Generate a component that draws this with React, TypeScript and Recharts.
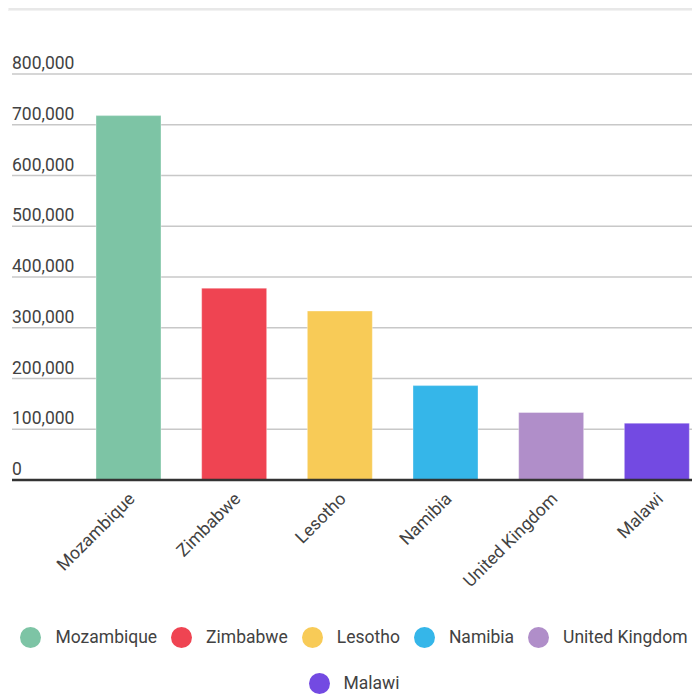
import React from 'react';
import { BarChart, Bar, XAxis, YAxis, CartesianGrid, Cell, Legend } from 'recharts';

const categories = ['Mozambique', 'Zimbabwe', 'Lesotho', 'Namibia', 'United Kingdom', 'Malawi'];
const values = [718000, 378000, 333000, 186000, 133000, 112000];
const colors = ['#7dc4a5', '#ef4452', '#f8cb57', '#35b6e9', '#b08ec9', '#734ae2'];
const yTicks = [0, 100000, 200000, 300000, 400000, 500000, 600000, 700000, 800000];

const data = categories.map((c, i) => ({ name: c, value: values[i], color: colors[i] }));

const fmt = (v: number) => v.toLocaleString('en-US');

const YTick = (props: any) => {
  const { y, payload } = props;
  return (
    <text x={4} y={y - 5} textAnchor="start" fontSize={17.5} fill="#424242" fontFamily="Roboto">
      {fmt(payload.value)}
    </text>
  );
};

const XTick = (props: any) => {
  const { x, y, payload } = props;
  const ax = x + 7;
  const ay = y + 12;
  return (
    <text
      x={ax}
      y={ay}
      textAnchor="end"
      transform={`rotate(-45, ${ax}, ${ay})`}
      fontSize={17.5}
      fill="#424242"
      fontFamily="Roboto"
    >
      {payload.value}
    </text>
  );
};

const LegendContent = () => (
  <div
    style={{
      width: 692,
      height: 84,
      display: 'flex',
      flexWrap: 'wrap',
      justifyContent: 'center',
      alignContent: 'flex-start',
      fontFamily: 'Roboto',
      fontSize: 17.5,
      color: '#424242',
    }}
  >
    {categories.map((c, i) => (
      <div key={c} style={{ display: 'flex', alignItems: 'center', height: 46, padding: '0 7px' }}>
        <span
          style={{
            display: 'inline-block',
            width: 21,
            height: 21,
            borderRadius: '50%',
            background: colors[i],
            marginRight: 14,
          }}
        />
        <span style={{ whiteSpace: 'nowrap' }}>{c}</span>
      </div>
    ))}
  </div>
);

export default function App() {
  return (
    <div style={{ marginTop: -4, width: 692, height: 694, overflow: 'hidden', position: 'relative', fontFamily: 'Roboto' }}>
      <div
        style={{
          position: 'absolute',
          top: 0,
          left: 0,
          width: 692,
          height: 7,
          background: '#e8e8e8',
          boxSizing: 'border-box',
          border: '1px solid #f2f2f2',
        }}
      />
      <BarChart width={702} height={694} data={data} margin={{ top: 70, right: 0, bottom: 0, left: 3 }}>
        <CartesianGrid vertical={false} stroke="#c8c8c8" strokeWidth={1.3} />
        <XAxis
          dataKey="name"
          padding={{ left: 64, right: 0 }}
          axisLine={{ stroke: '#333', strokeWidth: 2.5 }}
          tickLine={false}
          tick={<XTick />}
          interval={0}
          height={134}
        />
        <YAxis
          width={1}
          domain={[0, 800000]}
          ticks={yTicks}
          axisLine={false}
          tickLine={false}
          tick={<YTick />}
          interval={0}
        />
        <Legend content={<LegendContent />} wrapperStyle={{ left: 0, width: 692, height: 84 }} verticalAlign="bottom" />
        <Bar dataKey="value" barSize={65} isAnimationActive={false}>
          {data.map((d) => (
            <Cell key={d.name} fill={d.color} stroke="rgba(255,255,255,0.35)" strokeWidth={1} />
          ))}
        </Bar>
      </BarChart>
    </div>
  );
}
